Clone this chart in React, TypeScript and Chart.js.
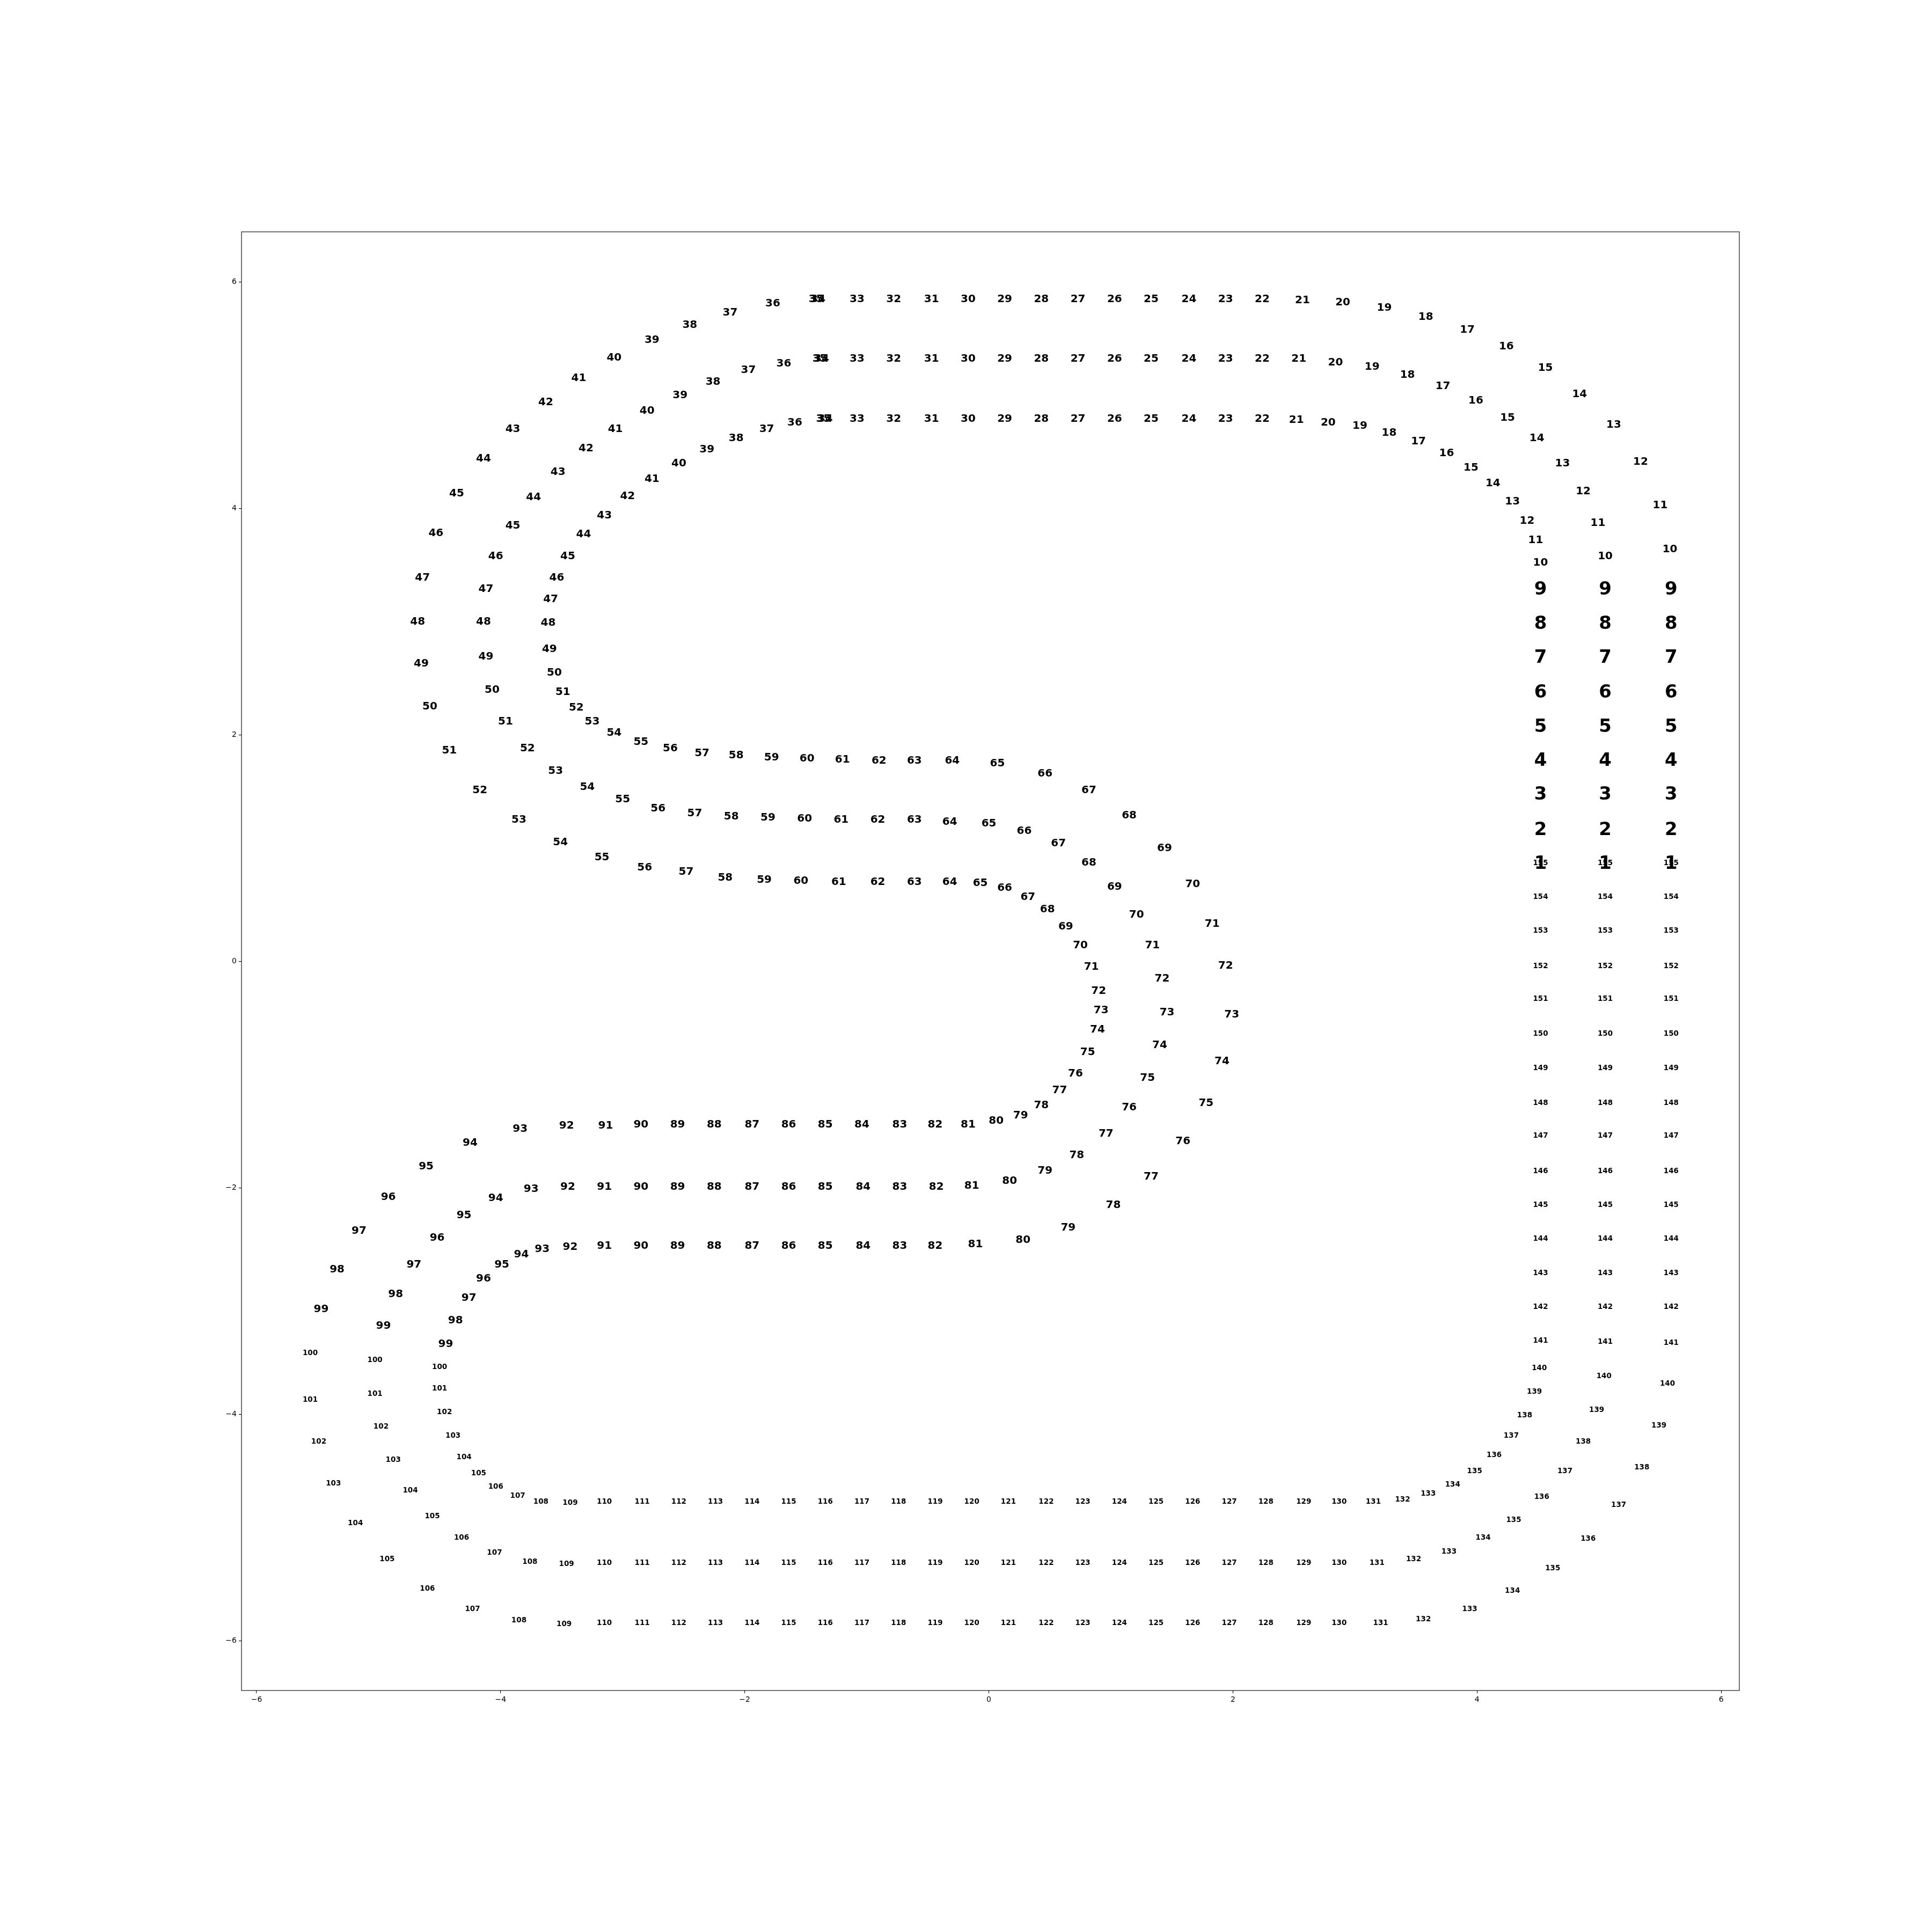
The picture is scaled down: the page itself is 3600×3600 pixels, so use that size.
import React, { useEffect, useRef } from "react";
import { Chart, registerables } from "chart.js";

Chart.register(...registerables);

// Point numbers 1..155 (the label drawn at each point)
const pointNumbers: string[] = Array.from({ length: 155 }, (_, i) => String(i + 1));

// Axis tick values
const xTickValues = [-6, -4, -2, 0, 2, 4, 6];
const yTickValues = [-6, -4, -2, 0, 2, 4, 6];

// Inner curve
const innerX = [
  4.52, 4.52, 4.52, 4.52, 4.52, 4.52, 4.52, 4.52, 4.52, 4.52,
  4.48, 4.41, 4.29, 4.13, 3.95, 3.75, 3.52, 3.28, 3.04, 2.78,
  2.52, 2.24, 1.94, 1.64, 1.33, 1.03, 0.73, 0.43, 0.13, -0.17,
  -0.47, -0.78, -1.08, -1.34, -1.355, -1.59, -1.82, -2.07, -2.31, -2.54,
  -2.76, -2.96, -3.15, -3.32, -3.45, -3.54, -3.59, -3.61, -3.60, -3.56,
  -3.49, -3.38, -3.25, -3.07, -2.85, -2.61, -2.35, -2.07, -1.78, -1.49,
  -1.20, -0.90, -0.61, -0.30, 0.07, 0.46, 0.82, 1.15, 1.44, 1.67,
  1.83, 1.94, 1.99, 1.91, 1.78, 1.59, 1.33, 1.02, 0.65, 0.28,
  -0.11, -0.44, -0.73, -1.03, -1.34, -1.64, -1.94, -2.25, -2.55, -2.85,
  -3.15, -3.43, -3.66, -3.83, -3.99, -4.14, -4.26, -4.37, -4.45, -4.50,
  -4.50, -4.46, -4.39, -4.30, -4.18, -4.04, -3.86, -3.67, -3.43, -3.15,
  -2.84, -2.54, -2.24, -1.94, -1.64, -1.34, -1.04, -0.74, -0.44, -0.14,
  0.16, 0.47, 0.77, 1.07, 1.37, 1.67, 1.97, 2.27, 2.58, 2.87,
  3.15, 3.39, 3.60, 3.80, 3.98, 4.14, 4.28, 4.39, 4.47, 4.51,
  4.52, 4.52, 4.52, 4.52, 4.52, 4.52, 4.52, 4.52, 4.52, 4.52,
  4.52, 4.52, 4.52, 4.52, 4.52,
];
const innerY = [
  0.86, 1.16, 1.47, 1.77, 2.07, 2.37, 2.68, 2.98, 3.28, 3.52,
  3.72, 3.89, 4.06, 4.22, 4.36, 4.49, 4.59, 4.67, 4.73, 4.76,
  4.78, 4.79, 4.79, 4.79, 4.79, 4.79, 4.79, 4.79, 4.79, 4.79,
  4.79, 4.79, 4.79, 4.79, 4.79, 4.76, 4.70, 4.62, 4.52, 4.40,
  4.26, 4.11, 3.94, 3.77, 3.58, 3.39, 3.20, 2.99, 2.76, 2.55,
  2.38, 2.24, 2.12, 2.02, 1.94, 1.88, 1.84, 1.82, 1.80, 1.79,
  1.78, 1.77, 1.77, 1.77, 1.75, 1.66, 1.51, 1.29, 1.00, 0.68,
  0.33, -0.04, -0.47, -0.88, -1.25, -1.59, -1.90, -2.15, -2.35, -2.46,
  -2.50, -2.51, -2.51, -2.51, -2.51, -2.51, -2.51, -2.51, -2.51, -2.51,
  -2.51, -2.52, -2.54, -2.59, -2.68, -2.80, -2.97, -3.17, -3.38, -3.58,
  -3.77, -3.98, -4.19, -4.38, -4.52, -4.64, -4.72, -4.77, -4.78, -4.77,
  -4.77, -4.77, -4.77, -4.77, -4.77, -4.77, -4.77, -4.77, -4.77, -4.77,
  -4.77, -4.77, -4.77, -4.77, -4.77, -4.77, -4.77, -4.77, -4.77, -4.77,
  -4.77, -4.75, -4.70, -4.62, -4.50, -4.36, -4.19, -4.01, -3.80, -3.59,
  -3.35, -3.05, -2.75, -2.45, -2.15, -1.85, -1.54, -1.25, -0.94, -0.64,
  -0.33, -0.04, 0.27, 0.57, 0.87,
];

// Middle curve
const middleX = [
  5.05, 5.05, 5.05, 5.05, 5.05, 5.05, 5.05, 5.05, 5.05, 5.05,
  4.99, 4.87, 4.70, 4.49, 4.25, 3.99, 3.72, 3.43, 3.14, 2.84,
  2.54, 2.24, 1.94, 1.64, 1.33, 1.03, 0.73, 0.43, 0.13, -0.17,
  -0.47, -0.78, -1.08, -1.37, -1.385, -1.68, -1.97, -2.26, -2.53, -2.80,
  -3.06, -3.30, -3.53, -3.73, -3.90, -4.04, -4.12, -4.14, -4.12, -4.07,
  -3.96, -3.78, -3.55, -3.29, -3.00, -2.71, -2.41, -2.11, -1.81, -1.51,
  -1.21, -0.91, -0.61, -0.32, 0.00, 0.29, 0.57, 0.82, 1.03, 1.21,
  1.34, 1.42, 1.46, 1.40, 1.30, 1.15, 0.96, 0.72, 0.46, 0.17,
  -0.14, -0.43, -0.73, -1.03, -1.34, -1.64, -1.94, -2.25, -2.55, -2.85,
  -3.15, -3.45, -3.75, -4.04, -4.30, -4.52, -4.71, -4.86, -4.96, -5.03,
  -5.03, -4.98, -4.88, -4.74, -4.56, -4.32, -4.05, -3.76, -3.46, -3.15,
  -2.84, -2.54, -2.24, -1.94, -1.64, -1.34, -1.04, -0.74, -0.44, -0.14,
  0.16, 0.47, 0.77, 1.07, 1.37, 1.67, 1.97, 2.27, 2.58, 2.87,
  3.18, 3.48, 3.77, 4.05, 4.30, 4.53, 4.72, 4.87, 4.98, 5.04,
  5.05, 5.05, 5.05, 5.05, 5.05, 5.05, 5.05, 5.05, 5.05, 5.05,
  5.05, 5.05, 5.05, 5.05, 5.05,
];
const middleY = [
  0.86, 1.16, 1.47, 1.77, 2.07, 2.37, 2.68, 2.98, 3.28, 3.58,
  3.87, 4.15, 4.40, 4.62, 4.80, 4.95, 5.08, 5.18, 5.25, 5.29,
  5.32, 5.32, 5.32, 5.32, 5.32, 5.32, 5.32, 5.32, 5.32, 5.32,
  5.32, 5.32, 5.32, 5.32, 5.32, 5.28, 5.22, 5.12, 5.00, 4.86,
  4.70, 4.53, 4.32, 4.10, 3.85, 3.58, 3.29, 3.00, 2.69, 2.40,
  2.12, 1.88, 1.68, 1.54, 1.43, 1.35, 1.31, 1.28, 1.27, 1.26,
  1.25, 1.25, 1.25, 1.23, 1.22, 1.15, 1.04, 0.87, 0.66, 0.41,
  0.14, -0.15, -0.45, -0.74, -1.03, -1.29, -1.52, -1.71, -1.85, -1.94,
  -1.98, -1.99, -1.99, -1.99, -1.99, -1.99, -1.99, -1.99, -1.99, -1.99,
  -1.99, -1.99, -2.01, -2.09, -2.24, -2.44, -2.68, -2.94, -3.22, -3.52,
  -3.82, -4.11, -4.40, -4.67, -4.90, -5.09, -5.22, -5.30, -5.32, -5.31,
  -5.31, -5.31, -5.31, -5.31, -5.31, -5.31, -5.31, -5.31, -5.31, -5.31,
  -5.31, -5.31, -5.31, -5.31, -5.31, -5.31, -5.31, -5.31, -5.31, -5.31,
  -5.31, -5.28, -5.21, -5.09, -4.93, -4.73, -4.50, -4.24, -3.96, -3.66,
  -3.36, -3.05, -2.75, -2.45, -2.15, -1.85, -1.54, -1.25, -0.94, -0.64,
  -0.33, -0.04, 0.27, 0.57, 0.87,
];

// Outer curve
const outerX = [
  5.59, 5.59, 5.59, 5.59, 5.59, 5.59, 5.59, 5.59, 5.59, 5.58,
  5.50, 5.34, 5.12, 4.84, 4.56, 4.24, 3.92, 3.58, 3.24, 2.90,
  2.57, 2.24, 1.94, 1.64, 1.33, 1.03, 0.73, 0.43, 0.13, -0.17,
  -0.47, -0.78, -1.08, -1.40, -1.415, -1.77, -2.12, -2.45, -2.76, -3.07,
  -3.36, -3.63, -3.90, -4.14, -4.36, -4.53, -4.64, -4.68, -4.65, -4.58,
  -4.42, -4.17, -3.85, -3.51, -3.17, -2.82, -2.48, -2.16, -1.84, -1.54,
  -1.23, -0.91, -0.61, -0.32, -0.07, 0.13, 0.32, 0.48, 0.63, 0.75,
  0.84, 0.90, 0.92, 0.89, 0.81, 0.71, 0.58, 0.43, 0.26, 0.06,
  -0.17, -0.44, -0.73, -1.04, -1.34, -1.64, -1.94, -2.25, -2.55, -2.85,
  -3.14, -3.46, -3.84, -4.25, -4.61, -4.92, -5.16, -5.34, -5.47, -5.56,
  -5.56, -5.49, -5.37, -5.19, -4.93, -4.60, -4.23, -3.85, -3.48, -3.15,
  -2.84, -2.54, -2.24, -1.94, -1.64, -1.34, -1.04, -0.74, -0.44, -0.14,
  0.16, 0.47, 0.77, 1.07, 1.37, 1.67, 1.97, 2.27, 2.58, 2.87,
  3.21, 3.56, 3.94, 4.29, 4.62, 4.91, 5.16, 5.35, 5.49, 5.56,
  5.59, 5.59, 5.59, 5.59, 5.59, 5.59, 5.59, 5.59, 5.59, 5.59,
  5.59, 5.59, 5.59, 5.59, 5.59,
];
const outerY = [
  0.86, 1.16, 1.47, 1.77, 2.07, 2.37, 2.68, 2.98, 3.28, 3.64,
  4.03, 4.41, 4.74, 5.01, 5.24, 5.43, 5.58, 5.69, 5.77, 5.82,
  5.84, 5.85, 5.85, 5.85, 5.85, 5.85, 5.85, 5.85, 5.85, 5.85,
  5.85, 5.85, 5.85, 5.85, 5.85, 5.81, 5.73, 5.62, 5.49, 5.33,
  5.15, 4.94, 4.70, 4.44, 4.13, 3.78, 3.39, 3.00, 2.63, 2.25,
  1.86, 1.51, 1.25, 1.05, 0.92, 0.83, 0.79, 0.74, 0.72, 0.71,
  0.70, 0.70, 0.70, 0.70, 0.69, 0.65, 0.57, 0.46, 0.31, 0.14,
  -0.05, -0.26, -0.43, -0.60, -0.80, -0.99, -1.14, -1.27, -1.36, -1.41,
  -1.44, -1.44, -1.44, -1.44, -1.44, -1.44, -1.44, -1.44, -1.44, -1.44,
  -1.45, -1.45, -1.48, -1.60, -1.81, -2.08, -2.38, -2.72, -3.07, -3.46,
  -3.87, -4.24, -4.61, -4.96, -5.28, -5.54, -5.72, -5.82, -5.85, -5.84,
  -5.84, -5.84, -5.84, -5.84, -5.84, -5.84, -5.84, -5.84, -5.84, -5.84,
  -5.84, -5.84, -5.84, -5.84, -5.84, -5.84, -5.84, -5.84, -5.84, -5.84,
  -5.84, -5.81, -5.72, -5.56, -5.36, -5.10, -4.80, -4.47, -4.10, -3.73,
  -3.37, -3.05, -2.75, -2.45, -2.15, -1.85, -1.54, -1.25, -0.94, -0.64,
  -0.33, -0.04, 0.27, 0.57, 0.87,
];

const toPoints = (xs: number[], ys: number[]) => xs.map((x, i) => ({ x, y: ys[i] }));

const fmtTick = (v: number) => (v < 0 ? "\u2212" + Math.abs(v) : String(v));

const numberLabelsPlugin = {
  id: "numberLabels",
  afterDatasetsDraw(chart: any) {
    const ctx = chart.ctx;
    ctx.save();
    ctx.fillStyle = "#000000";
    ctx.textAlign = "center";
    ctx.textBaseline = "middle";
    chart.data.datasets.forEach((_ds: any, di: number) => {
      const meta = chart.getDatasetMeta(di);
      meta.data.forEach((el: any, i: number) => {
        const txt = pointNumbers[i];
        const size = txt.length === 1 ? 34 : txt.length === 2 ? 20 : 13.5;
        ctx.font = `bold ${size}px "DejaVu Sans"`;
        ctx.fillText(txt, el.x, el.y);
      });
    });
    const a = chart.chartArea;
    ctx.strokeStyle = "#000000";
    ctx.lineWidth = 1.1;
    ctx.strokeRect(a.left, a.top, a.right - a.left, a.bottom - a.top);
    ctx.restore();
  },
};

export default function App() {
  const canvasRef = useRef<HTMLCanvasElement | null>(null);

  useEffect(() => {
    if (!canvasRef.current) return;
    const tickFont = { family: "DejaVu Sans", size: 14 };
    const chart = new Chart(canvasRef.current, {
      type: "scatter",
      data: {
        datasets: [
          { label: "inner", data: toPoints(innerX, innerY), pointRadius: 0, showLine: false },
          { label: "middle", data: toPoints(middleX, middleY), pointRadius: 0, showLine: false },
          { label: "outer", data: toPoints(outerX, outerY), pointRadius: 0, showLine: false },
        ],
      },
      options: {
        animation: false,
        responsive: false,
        devicePixelRatio: 1,
        events: [],
        layout: { padding: { left: 0, top: 432, right: 359, bottom: 0 } },
        plugins: { legend: { display: false }, tooltip: { enabled: false } },
        scales: {
          x: {
            type: "linear",
            min: -6.123,
            max: 6.149,
            border: { display: false },
            grid: {
              display: true,
              drawOnChartArea: false,
              drawTicks: true,
              tickLength: 5,
              color: "#000000",
              tickColor: "#000000",
              lineWidth: 1.1,
            },
            ticks: { font: tickFont, color: "#000000", padding: 4, callback: (v: any) => fmtTick(Number(v)) },
            afterBuildTicks: (s: any) => {
              s.ticks = xTickValues.map((v) => ({ value: v }));
            },
            afterFit: (s: any) => {
              s.height = 450;
            },
          },
          y: {
            type: "linear",
            min: -6.437,
            max: 6.444,
            border: { display: false },
            grid: {
              display: true,
              drawOnChartArea: false,
              drawTicks: true,
              tickLength: 5,
              color: "#000000",
              tickColor: "#000000",
              lineWidth: 1.1,
            },
            ticks: { font: tickFont, color: "#000000", padding: 4, callback: (v: any) => fmtTick(Number(v)) },
            afterBuildTicks: (s: any) => {
              s.ticks = yTickValues.map((v) => ({ value: v }));
            },
            afterFit: (s: any) => {
              s.width = 450;
            },
          },
        },
      },
      plugins: [numberLabelsPlugin],
    } as any);
    return () => chart.destroy();
  }, []);

  return (
    <div style={{ position: "absolute", left: 0, top: 0, width: 3600, height: 3600, background: "#ffffff" }}>
      <canvas ref={canvasRef} width={3600} height={3600} style={{ width: 3600, height: 3600, display: "block" }} />
    </div>
  );
}
